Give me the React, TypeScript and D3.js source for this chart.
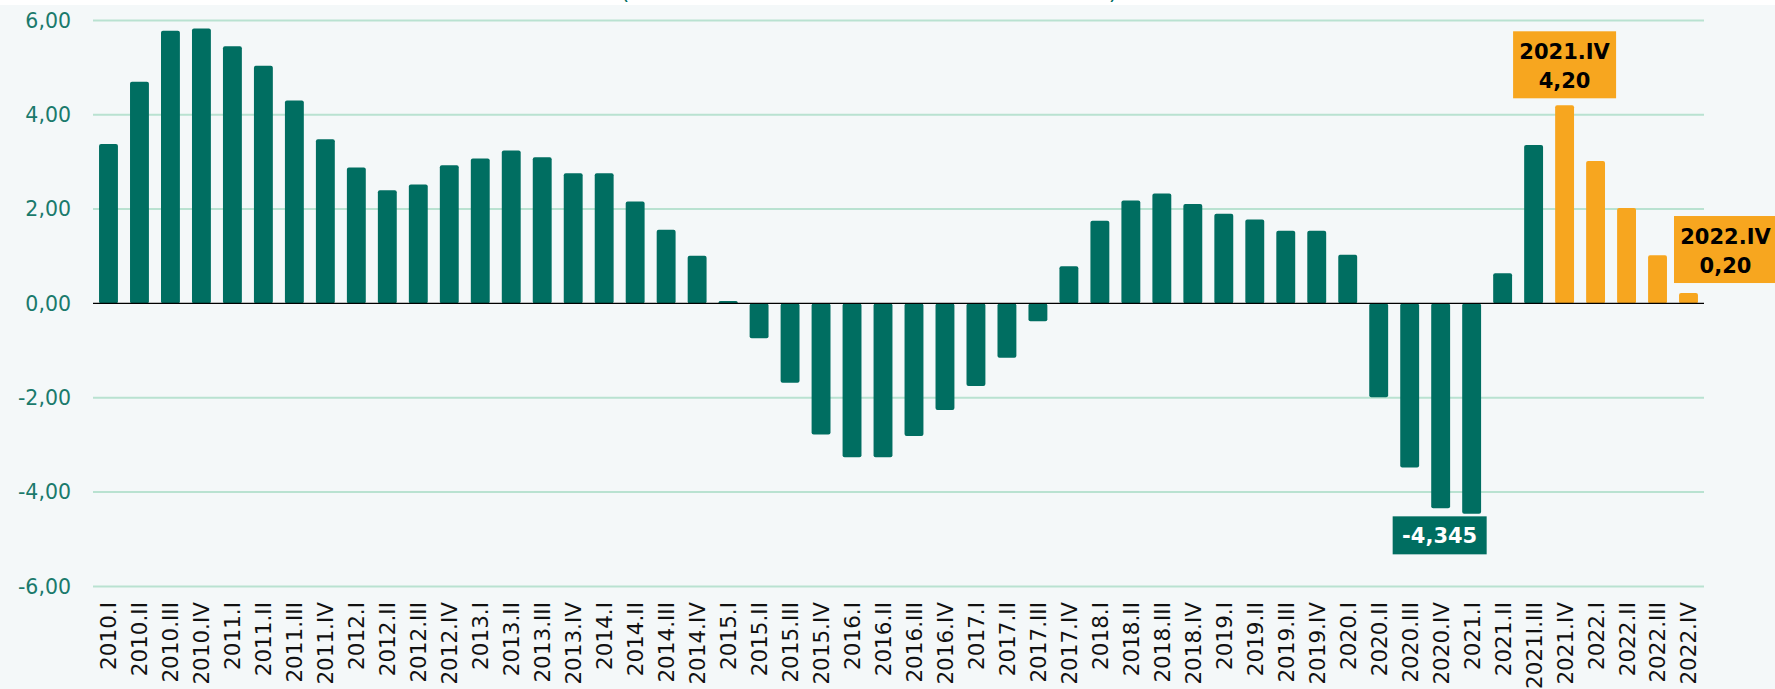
import React from "react";
import * as d3 from "d3";

const categories: string[] = [
  "2010.I", "2010.II", "2010.III", "2010.IV",
  "2011.I", "2011.II", "2011.III", "2011.IV",
  "2012.I", "2012.II", "2012.III", "2012.IV",
  "2013.I", "2013.II", "2013.III", "2013.IV",
  "2014.I", "2014.II", "2014.III", "2014.IV",
  "2015.I", "2015.II", "2015.III", "2015.IV",
  "2016.I", "2016.II", "2016.III", "2016.IV",
  "2017.I", "2017.II", "2017.III", "2017.IV",
  "2018.I", "2018.II", "2018.III", "2018.IV",
  "2019.I", "2019.II", "2019.III", "2019.IV",
  "2020.I", "2020.II", "2020.III", "2020.IV",
  "2021.I", "2021.II", "2021I.III", "2021.IV",
  "2022.I", "2022.II", "2022.III", "2022.IV",
];

const values: number[] = [
  3.38, 4.70, 5.78, 5.83,
  5.45, 5.04, 4.30, 3.48,
  2.88, 2.40, 2.52, 2.93,
  3.07, 3.24, 3.10, 2.76,
  2.76, 2.16, 1.56, 1.01,
  0.05, -0.74, -1.68, -2.78,
  -3.26, -3.26, -2.81, -2.26,
  -1.75, -1.15, -0.38, 0.79,
  1.75, 2.18, 2.33, 2.11,
  1.90, 1.78, 1.54, 1.54,
  1.03, -1.99, -3.48, -4.345,
  -4.46, 0.64, 3.36, 4.20,
  3.02, 2.02, 1.02, 0.22,
];

const forecastFrom = "2021.IV";

const yTicks: number[] = [-6, -4, -2, 0, 2, 4, 6];

const annotations = [
  { category: "2021.IV", lines: ["2021.IV", "4,20"], kind: "forecast" },
  { category: "2022.IV", lines: ["2022.IV", "0,20"], kind: "forecast" },
  { category: "2020.IV", lines: ["-4,345"], kind: "actual" },
];

const W = 1775;
const H = 689;
const TEAL = "#006e61";
const ORANGE = "#f7a61f";
const FONT = "'DejaVu Sans', 'Noto Sans', sans-serif";

const fmt = (v: number) => v.toFixed(2).replace(".", ",");

export default function App() {
  const x = d3
    .scaleBand<string>()
    .domain(categories)
    .range([93, 1704])
    .paddingInner(0.39)
    .paddingOuter(0.195);
  const y = d3.scaleLinear().domain([-6, 6]).range([586.4, 20.4]);
  const bw = x.bandwidth();
  const fIdx = categories.indexOf(forecastFrom);

  const annPlacement: Record<string, { dx: number; gap: number }> = {
    "2021.IV": { dx: 0, gap: 7 },
    "2022.IV": { dx: 37, gap: 10 },
    "2020.IV": { dx: -1, gap: 8 },
  };

  return (
    <div style={{ position: "absolute", left: 0, top: 0 }}>
      <svg width={W} height={H} style={{ display: "block", fontFamily: FONT }}>
        <rect x={0} y={0} width={W} height={H} fill="#ffffff" />
        <rect x={0} y={5} width={W} height={H - 5} fill="#f4f8f9" />

        {/* fragments of the title cut at the top */}
        <text x={625} y={-1} fontSize={22} fill={TEAL} textAnchor="middle">(</text>
        <text x={1113} y={-1} fontSize={22} fill={TEAL} textAnchor="middle">)</text>

        {/* gridlines */}
        {yTicks
          .filter((t) => t !== 0)
          .map((t) => (
            <line
              key={"g" + t}
              x1={93}
              x2={1704}
              y1={y(t)}
              y2={y(t)}
              stroke="#b9e2d1"
              strokeWidth={2}
            />
          ))}

        {/* y tick labels */}
        {yTicks.map((t) => (
          <text
            key={"yl" + t}
            x={71}
            y={y(t)}
            dy="0.36em"
            textAnchor="end"
            fontSize={20.5}
            fill="#1a7a6c"
          >
            {fmt(t)}
          </text>
        ))}

        {/* bars */}
        {categories.map((c, i) => {
          const v = values[i];
          const y0 = y(0);
          const y1 = y(v);
          const top = Math.min(y0, y1);
          const h = Math.max(1, Math.abs(y1 - y0));
          return (
            <rect
              key={"b" + c}
              x={x(c)}
              y={top}
              width={bw}
              height={h}
              rx={2}
              ry={2}
              fill={i >= fIdx ? ORANGE : TEAL}
            />
          );
        })}

        {/* zero line */}
        <line x1={93} x2={1704} y1={y(0)} y2={y(0)} stroke="#000" strokeWidth={1.2} />

        {/* x labels */}
        {categories.map((c) => {
          const cx = (x(c) as number) + bw / 2;
          return (
            <text
              key={"xl" + c}
              transform={`translate(${cx},602) rotate(-90)`}
              dy="0.37em"
              textAnchor="end"
              fontSize={21.5}
              fill="#111"
            >
              {c}
            </text>
          );
        })}

        {/* annotations */}
        {annotations.map((a) => {
          const i = categories.indexOf(a.category);
          const v = values[i];
          const p = annPlacement[a.category];
          const cx = (x(a.category) as number) + bw / 2 + p.dx;
          const lineH = 29;
          const boxH = a.lines.length === 2 ? 67 : 38;
          const boxW = a.lines.length === 2 ? 103 : 94;
          const top = v >= 0 ? y(v) - p.gap - boxH : y(v) + p.gap;
          const isF = a.kind === "forecast";
          return (
            <g key={"a" + a.category}>
              <rect x={cx - boxW / 2} y={top} width={boxW} height={boxH} fill={isF ? ORANGE : TEAL} />
              {a.lines.map((l, k) => (
                <text
                  key={k}
                  x={cx}
                  y={top + (a.lines.length === 2 ? 28 : 27) + k * lineH}
                  textAnchor="middle"
                  fontSize={21}
                  fontWeight="bold"
                  fill={isF ? "#000" : "#fff"}
                >
                  {l}
                </text>
              ))}
            </g>
          );
        })}
      </svg>
    </div>
  );
}
